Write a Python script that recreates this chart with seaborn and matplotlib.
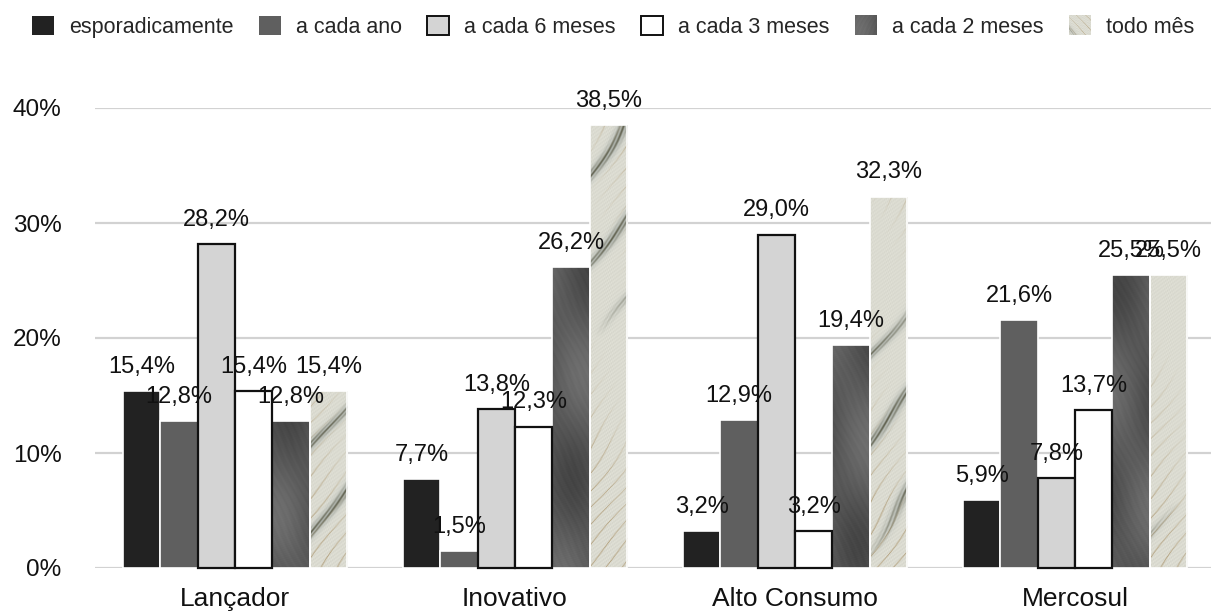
import numpy as np
import pandas as pd
import matplotlib
matplotlib.use("Agg")
import matplotlib.pyplot as plt
import seaborn as sns
from matplotlib.legend_handler import HandlerBase
from matplotlib.image import BboxImage
from matplotlib.transforms import Bbox, TransformedBbox
from matplotlib.patches import Patch

# ---- data -------------------------------------------------------------
grupos = ["Lançador", "Inovativo", "Alto Consumo", "Mercosul"]
frequencias = ["esporadicamente", "a cada ano", "a cada 6 meses",
               "a cada 3 meses", "a cada 2 meses", "todo mês"]
esporadicamente = [15.4, 7.7, 3.2, 5.9]
a_cada_ano = [12.8, 1.5, 12.9, 21.6]
a_cada_6_meses = [28.2, 13.8, 29.0, 7.8]
a_cada_3_meses = [15.4, 12.3, 3.2, 13.7]
a_cada_2_meses = [12.8, 26.2, 19.4, 25.5]
todo_mes = [15.4, 38.5, 32.3, 25.5]
y_ticks = [0, 10, 20, 30, 40]

series = [esporadicamente, a_cada_ano, a_cada_6_meses,
          a_cada_3_meses, a_cada_2_meses, todo_mes]
df = pd.DataFrame([
    {"grupo": g, "freq": f, "valor": v}
    for f, vals in zip(frequencias, series)
    for g, v in zip(grupos, vals)
])

# ---- styling ----------------------------------------------------------
sns.set_theme(style="white")
plt.rcParams["font.family"] = ["Liberation Sans", "DejaVu Sans"]

cores = ["#222222", "#5f5f5f", "#d4d4d4", "#ffffff", "#565656", "#d6d4c8"]
bordas = [False, False, True, True, False, False]


def textura_escura(h, w, fase=0.0):
    """Brushed dark-grey fill."""
    y, x = np.mgrid[0:h, 0:w].astype(float)
    v = 0.35
    v = v + 0.045 * np.sin(x / 17.0 + y / 41.0 + fase)
    v = v + 0.035 * np.sin(y / 29.0 - x / 23.0 + 2 * fase)
    v = v + 0.008 * np.sin((x * 0.9 + y * 0.45) / 1.1 + 2 * np.sin(y / 13.0 + fase))
    v = v + 0.008 * np.sin(x * 2.7 + y * 1.3) * np.sin(x * 1.9 - y * 2.2)
    v = np.clip(v, 0, 1)
    return np.dstack([v, v, v]).clip(0, 1)


def textura_marmore(h, w, fase=0.0):
    """Light marble fill with diagonal veins."""
    y, x = np.mgrid[0:h, 0:w].astype(float)
    img = np.ones((h, w, 3)) * np.array([0.86, 0.86, 0.82])
    grao = 0.035 * np.sin(x * 2.3 + y * 1.7) * np.sin(x * 1.1 - y * 2.9)
    img += grao[..., None]
    # coordinate across the veins (veins run from lower left to upper right)
    p = x - 0.8 * y + 7 * np.sin(y / 45.0 + fase) + 3 * np.sin(y / 17.0 + 2 * fase)
    # thin tan veins
    s2 = np.sin(np.pi * p / 17.0)
    forca2 = np.clip(0.55 + 0.6 * np.sin(y / 33.0 + p / 40.0 + 3 * fase), 0, 1) * 0.85
    vein2 = np.exp(-(s2 ** 2) / 0.015) * forca2
    # wider bluish halo around the dark veins
    s1 = np.sin(np.pi * (p + 20) / 75.0)
    forca1 = np.clip(np.sin(y / 85.0 + 1.3 * fase) + 0.2, 0, 1)
    halo = np.exp(-(s1 ** 2) / 0.09) * forca1 * 0.45
    # dark olive veins, streaky
    vein1 = np.exp(-(s1 ** 2) / 0.035) * forca1 * (0.55 + 0.45 * np.sin(p * 1.4 + y * 0.15)) * 0.95
    bege = np.array([0.68, 0.60, 0.45])
    azul = np.array([0.62, 0.67, 0.68])
    escuro = np.array([0.33, 0.33, 0.25])
    img = img * (1 - vein2[..., None]) + bege * vein2[..., None]
    img = img * (1 - halo[..., None]) + azul * halo[..., None]
    img = img * (1 - vein1[..., None]) + escuro * vein1[..., None]
    return img.clip(0, 1)


class HandlerTextura(HandlerBase):
    def __init__(self, img):
        super().__init__()
        self.img = img

    def create_artists(self, legend, orig_handle, xdescent, ydescent,
                       width, height, fontsize, trans):
        bb = TransformedBbox(Bbox.from_bounds(-xdescent, -ydescent, width, height), trans)
        im = BboxImage(bb, interpolation="bilinear")
        im.set_data(self.img)
        return [im]


fig = plt.figure(figsize=(12.11, 6.14), dpi=100)
ax = fig.add_axes([95 / 1211, 46 / 614, 1120 / 1211, 460 / 614])

sns.barplot(data=df, x="grupo", y="valor", hue="freq", order=grupos,
            hue_order=frequencias, palette=cores, saturation=1, width=0.8,
            legend=False, ax=ax, zorder=3)

for k, cont in enumerate(ax.containers):
    for j, bar in enumerate(cont.patches):
        x0 = bar.get_x()
        w = bar.get_width()
        if bordas[k]:
            bar.set_edgecolor("#111111")
            bar.set_linewidth(1.6)
            bar.set_zorder(5)
            bar.set_clip_on(False)
        else:
            bar.set_edgecolor("white")
            bar.set_linewidth(1.2)
        if k in (4, 5):
            if k == 4:
                tex = textura_escura(460, 40, fase=1.3 * j)
            else:
                tex = textura_marmore(460, 40, fase=2.1 * j + 0.5)
            im = ax.imshow(tex, extent=[x0, x0 + w, 0, 40], origin="lower",
                           aspect="auto", interpolation="bilinear", zorder=3)
            im.set_clip_path(bar)
            bar.set_facecolor("none")
            bar.set_edgecolor("white")
            bar.set_zorder(4)
        val = bar.get_height()
        ax.annotate(f"{val:.1f}".replace(".", ",") + "%",
                    xy=(x0 + w / 2, val), xytext=(0, 13),
                    textcoords="offset points", ha="center", va="baseline",
                    fontsize=17, color="#111111", zorder=6,
                    annotation_clip=False)

ax.set_xlim(-0.5, 3.5)
ax.set_ylim(0, 40)
ax.set_aspect("auto")

# grid & axes
ax.set_yticks(y_ticks)
ax.set_yticklabels([f"{t}%" for t in y_ticks])
ax.yaxis.grid(True, color="#d2d2d2", linewidth=1.6, zorder=0)
ax.set_axisbelow(True)
for s in ax.spines.values():
    s.set_visible(False)
ax.tick_params(axis="y", length=0, pad=24, labelsize=17.5, labelcolor="#111111")

ax.set_xticks([-0.5, 0.5, 1.5, 2.5, 3.5])
ax.set_xticklabels([])
ax.set_xticks([0, 1, 2, 3], minor=True)
ax.set_xticklabels(grupos, minor=True)
ax.tick_params(axis="x", which="major", direction="out", length=6,
               width=1.8, color="#111111")
ax.tick_params(axis="x", which="minor", length=0, pad=14, labelsize=19,
               labelcolor="#111111")
ax.set_xlabel("")
ax.set_ylabel("")

# legend
handles = []
handler_map = {}
for k, f in enumerate(frequencias):
    if k in (0, 1):
        h = Patch(facecolor=cores[k], edgecolor="none", label=f)
    elif k in (2, 3):
        h = Patch(facecolor=cores[k], edgecolor="#111111", linewidth=1.4, label=f)
    else:
        h = Patch(facecolor=cores[k], label=f)
        tex = textura_escura(40, 40, 0.4) if k == 4 else textura_marmore(40, 40, 2.0)
        handler_map[h] = HandlerTextura(tex)
    handles.append(h)

fig.legend(handles=handles, labels=frequencias, loc="center",
           bbox_to_anchor=(613 / 1211, 1 - 27 / 614), ncol=6, frameon=False,
           fontsize=15.5, handlelength=1.0, handleheight=1.0,
           handletextpad=0.7, columnspacing=1.2, handler_map=handler_map,
           borderpad=0, borderaxespad=0)

fig.savefig("out.png", dpi=100)
